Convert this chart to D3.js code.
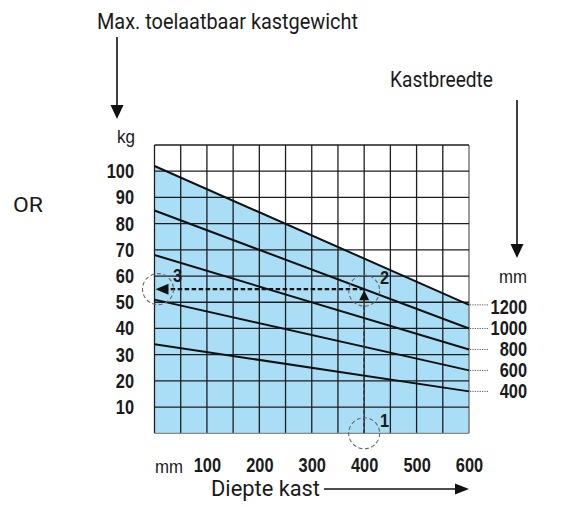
<!DOCTYPE html>
<html>
<head>
<meta charset="utf-8">
<script src="https://cdn.jsdelivr.net/npm/d3@7/dist/d3.min.js"></script>
<style>
  html, body { margin: 0; padding: 0; background: #fff; }
  svg { display: block; }
  .num { font-family: "Liberation Sans Narrow", "Arial Narrow", "Liberation Sans", Arial, sans-serif; font-weight: bold; fill: #1a1a1a; }
  .txt { font-family: Roboto, "Noto Sans", sans-serif; fill: #1a1a1a; }
  .unit { font-family: "Liberation Sans", Arial, sans-serif; fill: #1a1a1a; }
</style>
</head>
<body>
<svg id="chart" width="582" height="508"></svg>
<script>
// Cabinet depth (mm) ticks and gridline steps
const depthTicks = [100, 200, 300, 400, 500, 600];
const depthGrid = d3.range(0, 601, 50);
// Permitted weight (kg) ticks and gridline steps
const weightTicks = [10, 20, 30, 40, 50, 60, 70, 80, 90, 100];
const weightGrid = d3.range(0, 111, 10);

// Cabinet widths (mm) with max weight at depth 0 and depth 600
const widths = [1200, 1000, 800, 600, 400];
const weightAtDepth0 = [102, 85, 68, 51, 34];
const weightAtDepth600 = [49, 40, 32, 24, 16];

// Worked example: depth 400 mm, width 1000 mm -> 55 kg
const exampleDepth = 400;
const exampleWeight = 55;

const svg = d3.select("#chart");

const x = d3.scaleLinear().domain([0, 600]).range([154.5, 469]);
const y = d3.scaleLinear().domain([0, 110]).range([433.3, 145]);

// condensed numerals: squeeze each glyph to a fixed advance
const DIGIT_W = 9.1;
function narrow(sel) {
  sel.attr("textLength", function () { return this.textContent.length * DIGIT_W; })
     .attr("lengthAdjust", "spacingAndGlyphs");
}

const series = widths.map((w, i) => ({
  width: w,
  pts: [[0, weightAtDepth0[i]], [600, weightAtDepth600[i]]]
}));

// Light blue region under the widest cabinet line
svg.append("path")
  .datum(series[0].pts)
  .attr("fill", "#a9def6")
  .attr("d", d3.area().x(d => x(d[0])).y0(y(0)).y1(d => y(d[1])));

// Grid
const grid = svg.append("g").attr("stroke", "#1e1e1e").attr("stroke-width", 1.3);
grid.selectAll(".v").data(depthGrid).join("line")
  .attr("x1", d => x(d)).attr("x2", d => x(d))
  .attr("y1", y(0)).attr("y2", y(110))
  .attr("stroke", d => d === 600 ? "#666" : null);
grid.selectAll(".h").data(weightGrid).join("line")
  .attr("y1", d => y(d)).attr("y2", d => y(d))
  .attr("x1", x(0)).attr("x2", x(600))
  .attr("stroke", d => d === 0 ? "#888" : null);

// Width lines
const line = d3.line().x(d => x(d[0])).y(d => y(d[1]));
svg.append("g").selectAll("path").data(series).join("path")
  .attr("d", d => line(d.pts))
  .attr("fill", "none").attr("stroke", "#111").attr("stroke-width", 2);

// Y axis labels
const yAxis = d3.axisLeft(y).tickValues(weightTicks).tickSize(0).tickPadding(0);
const yg = svg.append("g").attr("transform", "translate(134,0)").call(yAxis);
yg.select(".domain").remove();
yg.selectAll("text").attr("class", "num").attr("font-size", 20).attr("fill", null)
  .attr("font-family", null).call(narrow);

// X axis labels
const xAxis = d3.axisBottom(x).tickValues(depthTicks).tickSize(0).tickPadding(0);
const xg = svg.append("g").attr("transform", "translate(0,458)").call(xAxis);
xg.select(".domain").remove();
xg.selectAll("text").attr("class", "num").attr("font-size", 20).attr("fill", null)
  .attr("font-family", null).call(narrow);

// Width labels with dotted leaders
const right = svg.append("g");
right.selectAll("line").data(series).join("line")
  .attr("x1", x(600) + 1).attr("x2", 489)
  .attr("y1", d => y(d.pts[1][1])).attr("y2", d => y(d.pts[1][1]))
  .attr("stroke", "#555").attr("stroke-width", 1).attr("stroke-dasharray", "1.2,1.2");
right.selectAll("text").data(series).join("text")
  .attr("class", "num").attr("font-size", 20)
  .attr("x", 527).attr("y", (d, i) => y(d.pts[1][1]) + (i === 0 ? 2.5 : 0))
  .attr("dy", "0.35em").attr("text-anchor", "end")
  .text(d => d.width).call(narrow);

// Unit labels
svg.append("text").attr("class", "unit").attr("font-size", 18).attr("x", 117).attr("y", 143)
  .attr("textLength", 18).attr("lengthAdjust", "spacingAndGlyphs").text("kg");
svg.append("text").attr("class", "unit").attr("font-size", 18).attr("x", 499).attr("y", 283)
  .attr("textLength", 28).attr("lengthAdjust", "spacingAndGlyphs").text("mm");
svg.append("text").attr("class", "unit").attr("font-size", 18).attr("x", 155).attr("y", 473)
  .attr("textLength", 28).attr("lengthAdjust", "spacingAndGlyphs").text("mm");

// Titles
svg.append("text").attr("class", "txt").attr("font-size", 21.5).attr("x", 97).attr("y", 29)
  .attr("textLength", 261).attr("lengthAdjust", "spacingAndGlyphs").text("Max. toelaatbaar kastgewicht");
svg.append("text").attr("class", "txt").attr("font-size", 21.5).attr("x", 390).attr("y", 87)
  .attr("textLength", 103).attr("lengthAdjust", "spacingAndGlyphs").text("Kastbreedte");
svg.append("text").attr("class", "txt").attr("font-size", 22).attr("x", 211).attr("y", 496)
  .attr("textLength", 109).attr("lengthAdjust", "spacingAndGlyphs").text("Diepte kast");
svg.append("text").attr("class", "txt").attr("font-size", 20).attr("x", 13).attr("y", 212)
  .attr("textLength", 30).attr("lengthAdjust", "spacingAndGlyphs").text("OR");

// Title arrows
const arrows = svg.append("g").attr("stroke", "#111").attr("stroke-width", 1.6).attr("fill", "#111");
arrows.append("line").attr("x1", 117).attr("x2", 117).attr("y1", 37).attr("y2", 106);
arrows.append("path").attr("stroke", "none").attr("d", "M110.5,105 L123.5,105 L117,119 Z");
arrows.append("line").attr("x1", 517).attr("x2", 517).attr("y1", 100).attr("y2", 245);
arrows.append("path").attr("stroke", "none").attr("d", "M510.5,244 L523.5,244 L517,258 Z");
arrows.append("line").attr("x1", 324).attr("x2", 456).attr("y1", 489).attr("y2", 489);
arrows.append("path").attr("stroke", "none").attr("d", "M455,483.5 L455,494.5 L469,489 Z");

// Worked example guides
const ex = x(exampleDepth), ey = y(exampleWeight);
svg.append("line").attr("x1", ex).attr("x2", ex).attr("y1", y(0)).attr("y2", ey + 10)
  .attr("stroke", "#333").attr("stroke-width", 1.6).attr("stroke-dasharray", "4,2.5");
svg.append("line").attr("x1", ex).attr("x2", x(0) + 13).attr("y1", ey).attr("y2", ey)
  .attr("stroke", "#111").attr("stroke-width", 2.2).attr("stroke-dasharray", "4.5,2.5");
svg.append("path").attr("fill", "#111")
  .attr("d", `M${ex - 5},${ey + 11} L${ex + 5},${ey + 11} L${ex},${ey + 1} Z`);
svg.append("path").attr("fill", "#111")
  .attr("d", `M${x(0) + 14},${ey - 5.5} L${x(0) + 14},${ey + 5.5} L${x(0) + 1},${ey} Z`);

// Step markers
const steps = [
  { n: "1", cx: ex, cy: y(0), lx: 380, ly: 427 },
  { n: "2", cx: ex, cy: ey + 1.5, lx: 380, ly: 284 },
  { n: "3", cx: x(0) + 3.5, cy: ey, lx: 173, ly: 282 }
];
svg.append("g").selectAll("circle").data(steps).join("circle")
  .attr("cx", d => d.cx).attr("cy", d => d.cy).attr("r", 15.5)
  .attr("fill", "none").attr("stroke", "#666").attr("stroke-width", 1.1).attr("stroke-dasharray", "4,2.5");
svg.append("g").selectAll("text").data(steps).join("text")
  .attr("class", "num").attr("font-size", 19).attr("font-weight", "normal")
  .attr("x", d => d.lx).attr("y", d => d.ly).text(d => d.n).call(narrow);
</script>
</body>
</html>
